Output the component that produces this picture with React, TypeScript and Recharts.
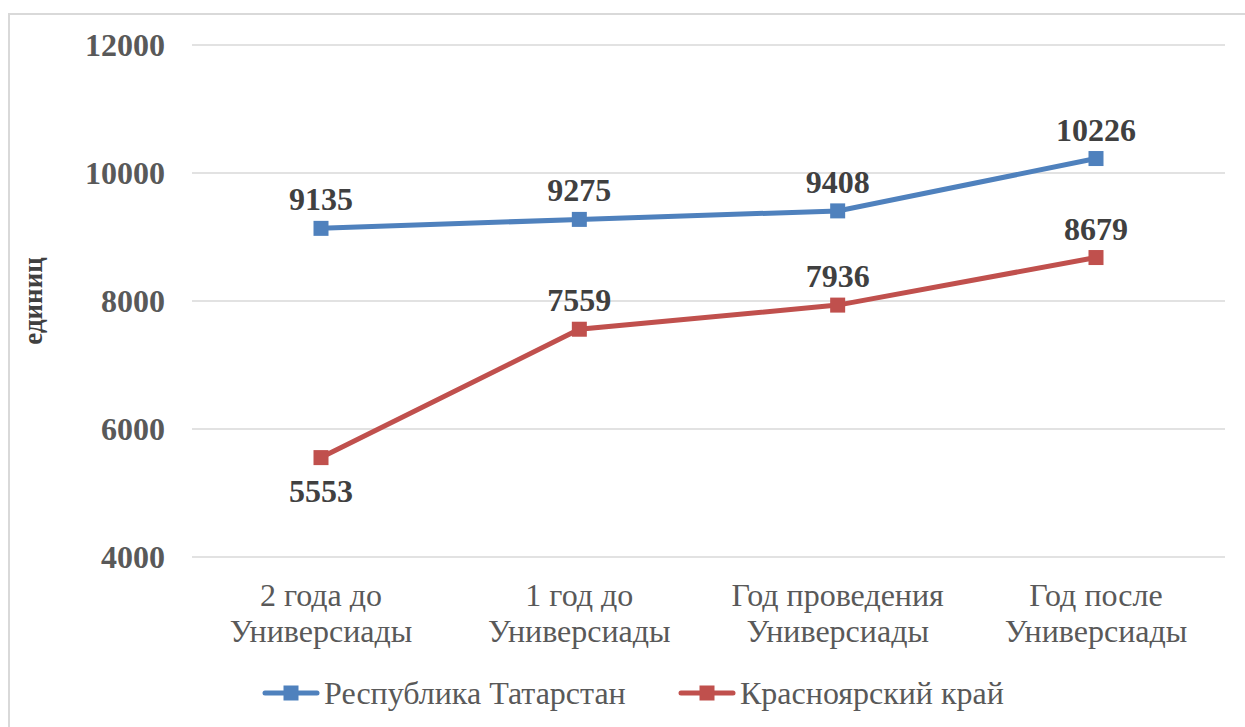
import React from "react"
import { LineChart, Line, XAxis, YAxis, CartesianGrid, LabelList } from "recharts"

// категории и значения (единиц)
const categories = [
  "2 года до|Универсиады",
  "1 год до|Универсиады",
  "Год проведения|Универсиады",
  "Год после|Универсиады",
]
const tatarstan = [9135, 9275, 9408, 10226]
const krasnoyarsk = [5553, 7559, 7936, 8679]
const yTicks = [4000, 6000, 8000, 10000, 12000]

const seriesNames = ["Республика Татарстан", "Красноярский край"]
const colors = ["#4F81BD", "#C0504D"]

const data = categories.map((c, i) => ({
  name: c,
  tat: tatarstan[i],
  kras: krasnoyarsk[i],
}))

const FONT = "'Liberation Serif', 'Times New Roman', serif"

const CategoryTick = ({ x, y, payload }: any) => {
  const lines = String(payload.value).split("|")
  return (
    <text x={x} y={y} textAnchor="middle" fill="#595959" fontSize={32} fontFamily={FONT}>
      {lines.map((l, i) => (
        <tspan key={i} x={x} dy={i === 0 ? 47 : 36}>
          {l}
        </tspan>
      ))}
    </text>
  )
}

const SquareDot = ({ cx, cy, fill }: any) => {
  if (cx == null || cy == null) return null
  return <rect x={cx - 7.5} y={cy - 7.5} width={15} height={15} fill={fill} />
}

const makeLabel = (below: (i: number) => boolean) => (props: any) => {
  const { x, y, value, index } = props
  const under = below(index)
  return (
    <text
      x={x}
      y={under ? y + 44 : y - 18}
      textAnchor="middle"
      fill="#404040"
      fontSize={32}
      fontWeight="bold"
      fontFamily={FONT}
    >
      {value}
    </text>
  )
}

const LegendItem = ({ color, label, width }: { color: string; label: string; width: number }) => (
  <svg width={width} height={40} style={{ display: "block" }}>
    <line x1={3} y1={21} x2={55} y2={21} stroke={color} strokeWidth={5} strokeLinecap="round" />
    <rect x={21.5} y={13.5} width={15} height={15} fill={color} />
    <text x={62} y={32} fontSize={32} fill="#595959" fontFamily={FONT}>
      {label}
    </text>
  </svg>
)

export default function App() {
  return (
    <div
      style={{
        position: "absolute",
        left: 0,
        top: 0,
        width: 1245,
        height: 727,
        overflow: "hidden",
        background: "#fff",
      }}
    >
      <div
        style={{
          position: "absolute",
          left: 8,
          top: 13,
          width: 1400,
          height: 900,
          border: "2px solid #D9D9D9",
          boxSizing: "border-box",
        }}
      />
      <div style={{ position: "absolute", left: 0, top: 0 }}>
        <LineChart width={1245} height={727} data={data} margin={{ top: 45, right: 20, left: 42, bottom: 70 }}>
          <CartesianGrid vertical={false} stroke="#D9D9D9" strokeWidth={1.5} />
          <XAxis
            dataKey="name"
            axisLine={false}
            tickLine={false}
            tickSize={0}
            height={100}
            interval={0}
            padding={{ left: 129, right: 129 }}
            tick={<CategoryTick />}
          />
          <YAxis
            domain={[4000, 12000]}
            ticks={yTicks}
            axisLine={false}
            tickLine={false}
            tickSize={0}
            tickMargin={27}
            width={150}
            tick={{ fill: "#595959", fontSize: 32, fontWeight: "bold", fontFamily: FONT }}
            label={{
              value: "единиц",
              angle: -90,
              position: "insideLeft",
              offset: -10,
              style: { textAnchor: "middle", fill: "#404040", fontSize: 27, fontWeight: "bold", fontFamily: FONT },
            }}
          />
          <Line
            dataKey="tat"
            name={seriesNames[0]}
            stroke={colors[0]}
            strokeWidth={5}
            dot={<SquareDot fill={colors[0]} />}
            activeDot={false}
            isAnimationActive={false}
          >
            <LabelList dataKey="tat" content={makeLabel(() => false)} />
          </Line>
          <Line
            dataKey="kras"
            name={seriesNames[1]}
            stroke={colors[1]}
            strokeWidth={5}
            dot={<SquareDot fill={colors[1]} />}
            activeDot={false}
            isAnimationActive={false}
          >
            <LabelList dataKey="kras" content={makeLabel((i) => i === 0)} />
          </Line>
        </LineChart>
      </div>
      <div style={{ position: "absolute", left: 262, top: 672, display: "flex" }}>
        <LegendItem color={colors[0]} label={seriesNames[0]} width={416} />
        <LegendItem color={colors[1]} label={seriesNames[1]} width={360} />
      </div>
    </div>
  )
}
